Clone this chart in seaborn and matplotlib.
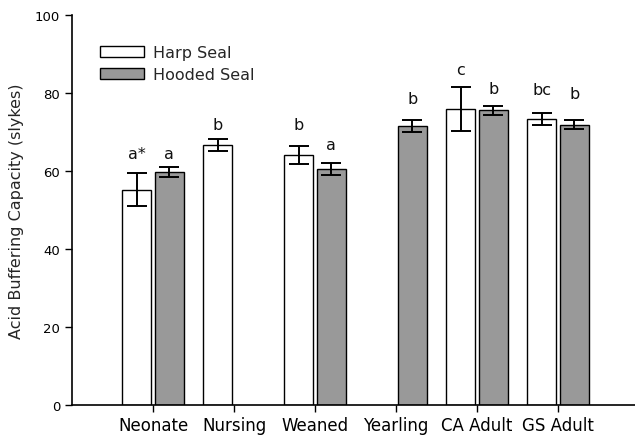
import matplotlib
matplotlib.use("Agg")
import matplotlib.pyplot as plt
import seaborn as sns
import pandas as pd
import numpy as np

# Age classes and acid buffering capacity (mean ± SE, slykes)
categories = ["Neonate", "Nursing", "Weaned", "Yearling", "CA Adult", "GS Adult"]
species = ["Harp Seal", "Hooded Seal"]

harp_mean = [55.2, 66.7, 64.1, np.nan, 75.9, 73.4]
harp_se = [4.2, 1.6, 2.3, np.nan, 5.6, 1.5]
hooded_mean = [59.7, np.nan, 60.5, 71.6, 75.6, 71.9]
hooded_se = [1.3, np.nan, 1.6, 1.6, 1.15, 1.25]

# Significance letters and their heights
harp_letters = ["a*", "b", "b", "", "c", "bc"]
harp_letter_y = [64.6, 71.8, 71.8, np.nan, 86.0, 80.9]
hooded_letters = ["a", "", "a", "b", "b", "b"]
hooded_letter_y = [64.6, np.nan, 66.8, 78.5, 81.2, 79.9]

rows = []
for sp, means, ses, labs, laby in [
    (species[0], harp_mean, harp_se, harp_letters, harp_letter_y),
    (species[1], hooded_mean, hooded_se, hooded_letters, hooded_letter_y),
]:
    for cat, m, s, l, ly in zip(categories, means, ses, labs, laby):
        if not np.isnan(m):
            rows.append(dict(age=cat, species=sp, value=m, se=s, letter=l, ly=ly))
df = pd.DataFrame(rows)

sns.set_style("ticks")
plt.rcParams["font.family"] = ["DejaVu Sans"]

fig = plt.figure(figsize=(6.35, 4.39), dpi=100)
ax = fig.add_axes([0.1134, 0.0752, 0.8866, 0.8884])

palette = {"Harp Seal": "#ffffff", "Hooded Seal": "#999999"}
sns.barplot(data=df, x="age", y="value", hue="species", order=categories,
            hue_order=species, palette=palette, edgecolor="black",
            linewidth=1.0, width=0.8, gap=0.1, errorbar=None, ax=ax)

# Error bars and letters placed on each bar's centre
for container, sp in zip(ax.containers, species):
    sub = df[df["species"] == sp].copy()
    sub["order"] = sub["age"].map(categories.index)
    sub = sub.sort_values("order")
    bars = sorted(container.patches, key=lambda b: b.get_x())
    for bar, (_, r) in zip(bars, sub.iterrows()):
        xc = bar.get_x() + bar.get_width() / 2
        ax.errorbar(xc, r["value"], yerr=r["se"], fmt="none", ecolor="black",
                    elinewidth=1.4, capsize=7.5, capthick=1.4, zorder=5)
        if r["letter"]:
            ax.text(xc, r["ly"], r["letter"], ha="center", va="center",
                    fontsize=11.5, color="#111111")

ax.set_xlim(-1, 5.95)
ax.set_ylim(0, 100)
ax.set_yticks([0, 20, 40, 60, 80, 100])
ax.set_xlabel("")
ax.set_ylabel("Acid Buffering Capacity (slykes)", fontsize=11.5, labelpad=8)
ax.tick_params(axis="y", labelsize=9.5, length=5, width=1, direction="out",
               colors="black")
ax.tick_params(axis="x", labelsize=12, length=5, width=1, direction="out",
               pad=3, colors="black")
for s in ["left", "bottom"]:
    ax.spines[s].set_linewidth(1.2)
    ax.spines[s].set_color("black")
sns.despine(ax=ax)

leg = ax.legend(loc="upper left", bbox_to_anchor=(0.025, 0.96), frameon=False,
                fontsize=11.5, handlelength=2.7, handleheight=0.75,
                handletextpad=0.6, labelspacing=0.45)

fig.savefig("out.png", dpi=100)
